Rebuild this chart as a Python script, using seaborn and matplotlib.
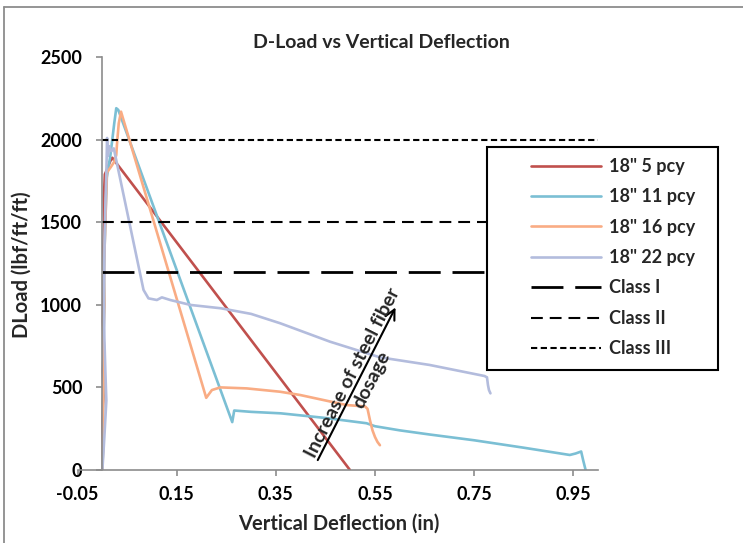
import matplotlib
matplotlib.use("Agg")
import matplotlib.pyplot as plt
import seaborn as sns
import pandas as pd
from matplotlib.lines import Line2D
from matplotlib.patches import Rectangle

# ---------------- data ----------------
red_x = [0.000, 0.001, 0.000, 0.002, 0.001, 0.003, 0.001, 0.002, 0.003, 0.002, 0.004, 0.003, 0.005, 0.008, 0.012, 0.016, 0.020, 0.4995]
red_y = [0, 150, 300, 450, 600, 750, 900, 1050, 1200, 1350, 1500, 1650, 1790, 1810, 1840, 1870, 1890, 0]

blue_x = [0.000, 0.002, 0.001, 0.003, 0.002, 0.004, 0.003, 0.005, 0.007, 0.009, 0.012, 0.016, 0.020, 0.024, 0.028, 0.032,
          0.262, 0.266, 0.300, 0.360, 0.450, 0.533, 0.550, 0.600, 0.660, 0.750, 0.850, 0.943, 0.955, 0.966, 0.970, 0.975]
blue_y = [0, 200, 400, 600, 800, 1000, 1200, 1400, 1600, 1770, 1830, 1900, 2000, 2100, 2190, 2180,
          290, 360, 352, 343, 315, 283, 265, 240, 215, 180, 135, 91, 100, 112, 60, 0]

orange_x = [0.000, 0.002, 0.001, 0.003, 0.002, 0.004, 0.003, 0.005, 0.007, 0.009, 0.0175, 0.024, 0.028, 0.0296, 0.033, 0.0376,
            0.2095, 0.221, 0.238, 0.291, 0.358, 0.399, 0.493, 0.530, 0.535, 0.540, 0.545, 0.550, 0.555, 0.560]
orange_y = [0, 200, 400, 600, 800, 1000, 1200, 1400, 1600, 1800, 1836, 1866, 1907, 1977, 2098, 2169,
            437, 484, 500, 494, 474, 454, 393, 385, 370, 300, 240, 200, 170, 150]

lav_x = [0.000, 0.004, 0.008, 0.006, 0.004, 0.003, 0.004, 0.006, 0.008, 0.0095, 0.011, 0.014, 0.018, 0.023,
         0.083, 0.093, 0.110, 0.120, 0.137, 0.178, 0.239, 0.300, 0.359, 0.459, 0.560, 0.660, 0.728, 0.771, 0.776, 0.778, 0.780, 0.783]
lav_y = [0, 200, 420, 600, 800, 1030, 1300, 1600, 1800, 2010, 1900, 1960, 1930, 1947,
         1090, 1039, 1029, 1045, 1029, 999, 979, 945, 888, 777, 682, 636, 595, 569, 561, 514, 484, 464]

series_names = ['18" 5 pcy', '18" 11 pcy', '18" 16 pcy', '18" 22 pcy']
series_colors = ['#C0504D', '#7BBFD4', '#F9AC84', '#B3BCDD']

class_names = ['Class I', 'Class II', 'Class III']
class_levels = [1200, 1500, 2000]
class_x = [0.0, 1.0]

x_ticks = [-0.05, 0.15, 0.35, 0.55, 0.75, 0.95]
y_ticks = [0, 500, 1000, 1500, 2000, 2500]

note_lines = ['Increase of steel fiber', 'dosage']

# ---------------- style ----------------
sns.set_style("white")
plt.rcParams['font.family'] = ['Lato', 'DejaVu Sans']
plt.rcParams['font.weight'] = 'bold'
plt.rcParams['lines.scale_dashes'] = False

fig = plt.figure(figsize=(7.43, 5.43), dpi=100)
ax = fig.add_axes([77.6 / 743, 73 / 543, (598 - 77.6) / 743, (470 - 57) / 543])

all_series = [(red_x, red_y), (blue_x, blue_y), (orange_x, orange_y), (lav_x, lav_y)]
for (xs, ys), name, col in zip(all_series, series_names, series_colors):
    df = pd.DataFrame({'x': xs, 'y': ys})
    sns.lineplot(data=df, x='x', y='y', sort=False, estimator=None, color=col,
                 linewidth=1.9, ax=ax, label=name)

class_styles = [dict(lw=2.0, dashes=(23, 8.5)),
                dict(lw=1.5, dashes=(8.5, 5)),
                dict(lw=1.5, dashes=(4.5, 2.5))]
for name, lvl, st in zip(class_names, class_levels, class_styles):
    df = pd.DataFrame({'x': class_x, 'y': [lvl, lvl]})
    sns.lineplot(data=df, x='x', y='y', color='black', linewidth=st['lw'], ax=ax, label=name)
    ax.lines[-1].set_dashes(st['dashes'])

ax.set_xlim(-0.05, 1.0)
ax.set_ylim(0, 2500)
ax.set_xticks(x_ticks)
ax.set_xticklabels([f"{v:.2f}" for v in x_ticks])
ax.set_yticks(y_ticks)
ax.set_yticklabels([str(v) for v in y_ticks])
ax.set_xlabel('')
ax.set_ylabel('')

for s in ['top', 'right']:
    ax.spines[s].set_visible(False)
ax.spines['left'].set_position(('data', 0))
ax.spines['left'].set_color('#8c8c8c')
ax.spines['bottom'].set_color('#8c8c8c')
ax.spines['left'].set_linewidth(1.2)
ax.spines['bottom'].set_linewidth(1.2)
ax.tick_params(axis='both', which='both', direction='out', length=4, width=1.2,
               color='#8c8c8c', labelsize=13, labelcolor='black')
ax.tick_params(axis='y', pad=10.5, left=True)
ax.tick_params(axis='x', pad=7.5, bottom=True)
for t in ax.get_xticklabels() + ax.get_yticklabels():
    t.set_fontweight('bold')

# arrow & annotation (one line on each side of the arrow)
ax.annotate('', xy=(0.594, 999), xytext=(0.432, 45),
            arrowprops=dict(arrowstyle='->', color='black', lw=1.5, mutation_scale=18))
ax.text(0.5156, 570, note_lines[0], rotation=63, rotation_mode='anchor',
        ha='center', va='baseline', fontsize=14, fontweight='bold')
ax.text(0.5291, 571, note_lines[1], rotation=63, rotation_mode='anchor',
        ha='center', va='top', fontsize=14, fontweight='bold')

# legend
leg = ax.legend(loc='upper left', bbox_to_anchor=(522 / 743, 1 - 149 / 543),
                bbox_transform=fig.transFigure, frameon=False, fontsize=13,
                handlelength=3.9, handletextpad=0.4, labelspacing=0.74, borderpad=0)
for t in leg.get_texts():
    t.set_fontweight('bold')
leg.set_zorder(6)
ax.add_patch(Rectangle((487 / 743, 1 - 370 / 543), (718 - 487) / 743, (370 - 147) / 543,
                       transform=fig.transFigure, facecolor='white', edgecolor='black',
                       lw=1.5, zorder=5, clip_on=False))

# titles
fig.text(381 / 743, 1 - 42 / 543, 'D-Load vs Vertical Deflection', ha='center', va='center',
         fontsize=14, fontweight='bold')
fig.text(339 / 743, 1 - 524 / 543, 'Vertical Deflection (in)', ha='center', va='center',
         fontsize=14.5, fontweight='bold')
fig.text(22 / 743, 1 - 265 / 543, 'DLoad (lbf/ft/ft)', ha='center', va='center', rotation=90,
         fontsize=14.5, fontweight='bold')

# outer frame (left and top edges)
fig.add_artist(Line2D([3.5 / 743, 3.5 / 743], [0, 1 - 7 / 543], transform=fig.transFigure,
                      color='#8c8c8c', lw=1.3))
fig.add_artist(Line2D([3.5 / 743, 1], [1 - 7 / 543, 1 - 7 / 543], transform=fig.transFigure,
                      color='#8c8c8c', lw=1.3))

fig.savefig('out.png', dpi=100)
